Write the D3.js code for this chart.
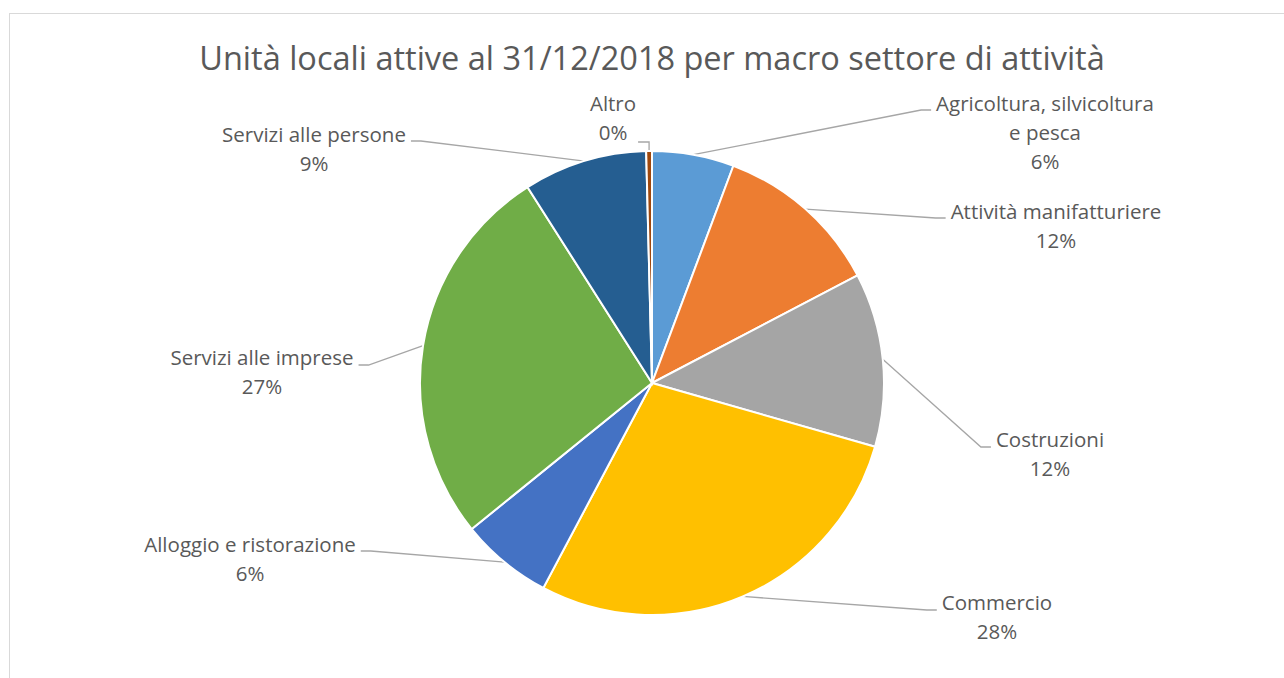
<!DOCTYPE html>
<html>
<head>
<meta charset="utf-8">
<script src="https://cdn.jsdelivr.net/npm/d3@7"></script>
<style>
  body { margin: 0; background: #fff; }
  svg text { font-family: "Open Sans", sans-serif; fill: #595959; }
</style>
</head>
<body>
<svg id="chart"></svg>
<script>
// data, clockwise from 12 o'clock
var categories = ["Agricoltura, silvicoltura e pesca", "Attività manifatturiere", "Costruzioni",
                  "Commercio", "Alloggio e ristorazione", "Servizi alle imprese",
                  "Servizi alle persone", "Altro"];
var shares = [5.7, 11.6, 12.1, 28.3, 6.4, 26.8, 8.6, 0.4];
var colors = ["#5B9BD5", "#ED7D31", "#A5A5A5", "#FFC000", "#4472C4", "#70AD47", "#255E91", "#9E480E"];
var title = "Unità locali attive al 31/12/2018 per macro settore di attività";

// where excel put each label (center x, first line y, leader attach y)
var labelLayout = [
  {x: 1045, y: 104, ay: 110},
  {x: 1056, y: 212, ay: 218},
  {x: 1050, y: 440, ay: 447},
  {x: 997,  y: 603, ay: 610},
  {x: 250,  y: 545, ay: 551},
  {x: 262,  y: 358, ay: 365},
  {x: 314,  y: 135, ay: 141},
  {x: 613,  y: 104, ay: 142}
];

var screen = {width: 1284, height: 678};
var center = {x: 652, y: 383};
var radius = 232;
var lineH = 29;

var svg = d3.select("#chart")
  .attr("width", screen.width)
  .attr("height", screen.height);

// chart frame (runs off the page on right and bottom)
svg.append("rect")
  .attr("x", 9.5).attr("y", 13.5)
  .attr("width", 1400).attr("height", 800)
  .attr("fill", "none")
  .attr("stroke", "#D9D9D9");

svg.append("text")
  .text(title)
  .attr("x", center.x)
  .attr("y", 59)
  .attr("dy", "0.35em")
  .attr("text-anchor", "middle")
  .style("font-size", "32.5px");

var total = d3.sum(shares);
var pct = d3.format(".0%");

var pie = d3.pie().sort(null).value(function(d) { return d; });
var arcs = pie(shares);
var arcGen = d3.arc().innerRadius(0).outerRadius(radius);

var g = svg.append("g")
  .attr("transform", "translate(" + center.x + "," + center.y + ")");

g.selectAll("path")
  .data(arcs)
  .enter()
  .append("path")
  .attr("d", arcGen)
  .attr("fill", function(d, i) { return colors[i]; })
  .attr("stroke", "#fff")
  .attr("stroke-width", 2);

// labels
var labels = svg.append("g");
var leaders = svg.insert("g", "g");

arcs.forEach(function(a, i) {
  var pos = labelLayout[i];
  var t = labels.append("text")
    .attr("text-anchor", "middle")
    .style("font-size", "20.5px");

  // simple word wrap
  var words = categories[i].split(" ");
  var lines = [];
  var cur = "";
  var probe = t.append("tspan");
  words.forEach(function(w) {
    var test = cur ? cur + " " + w : w;
    probe.text(test);
    if (probe.node().getComputedTextLength() > 222 && cur) {
      lines.push(cur);
      cur = w;
    } else {
      cur = test;
    }
  });
  lines.push(cur);
  probe.remove();
  lines.push(pct(a.data / total));

  lines.forEach(function(l, k) {
    t.append("tspan")
      .attr("x", pos.x)
      .attr("y", pos.y + k * lineH)
      .attr("dy", "0.35em")
      .text(l);
  });

  // leader line from the slice edge to the label
  var box = t.node().getBBox();
  var mid = (a.startAngle + a.endAngle) / 2;
  var sx = center.x + Math.sin(mid) * radius;
  var sy = center.y - Math.cos(mid) * radius;
  var ex, elbow;
  if (pos.x > center.x) {
    ex = box.x - 5; elbow = ex - 10;
  } else {
    ex = box.x + box.width + 5; elbow = ex + 10;
  }
  if (i == arcs.length - 1) {
    // tiny slice: go up then across
    ex = box.x + box.width + 2;
    elbow = sx;
  }
  leaders.append("polyline")
    .attr("points", [[sx, sy], [elbow, pos.ay], [ex, pos.ay]].join(" "))
    .attr("fill", "none")
    .attr("stroke", "#A6A6A6")
    .attr("stroke-width", 1.3);
});
</script>
</body>
</html>
